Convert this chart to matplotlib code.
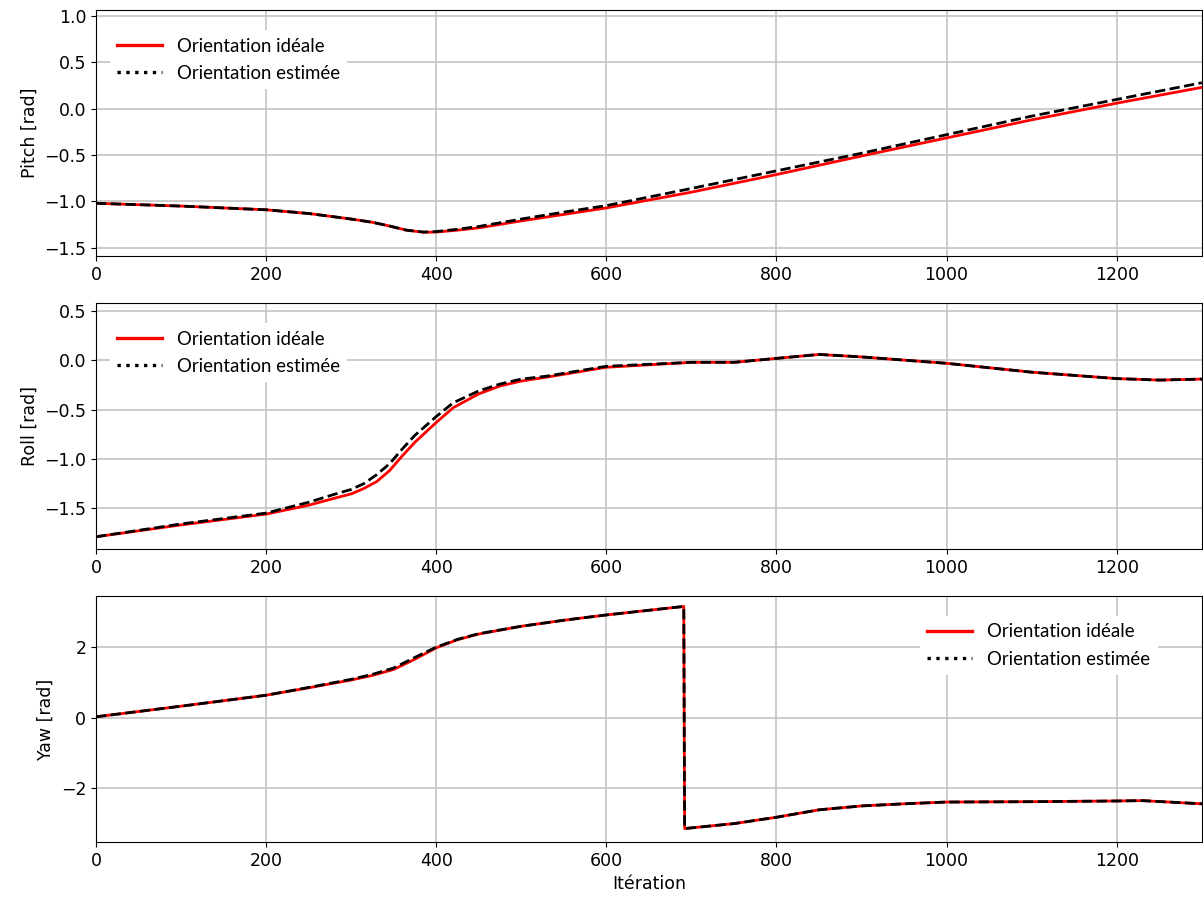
import numpy as np
import matplotlib
matplotlib.use("Agg")
import matplotlib.pyplot as plt
from matplotlib.lines import Line2D

# ---------------------------------------------------------------------------
# Data (iteration -> angle in rad)
# ---------------------------------------------------------------------------
x_pitch = [0, 100, 200, 250, 300, 325, 345, 365, 385, 400, 425, 450, 500,
           550, 600, 700, 800, 900, 1000, 1100, 1200, 1300]
pitch_ideal = [-1.02, -1.05, -1.09, -1.13, -1.19, -1.225, -1.265, -1.31, -1.333,
               -1.33, -1.31, -1.285, -1.21, -1.14, -1.07, -0.90, -0.71, -0.51,
               -0.315, -0.12, 0.06, 0.23]
pitch_est = [-1.02, -1.05, -1.09, -1.13, -1.19, -1.225, -1.265, -1.31, -1.33,
             -1.325, -1.30, -1.27, -1.19, -1.115, -1.045, -0.86, -0.67, -0.48,
             -0.28, -0.08, 0.10, 0.28]

x_roll = [0, 100, 200, 250, 280, 300, 315, 330, 345, 360, 375, 400, 420, 450,
          475, 500, 530, 600, 700, 750, 800, 850, 900, 1000, 1100, 1200, 1250, 1300]
roll_ideal = [-1.79, -1.67, -1.56, -1.47, -1.40, -1.355, -1.30, -1.23, -1.12,
              -0.97, -0.83, -0.63, -0.48, -0.34, -0.26, -0.21, -0.17, -0.07,
              -0.02, -0.02, 0.02, 0.06, 0.035, -0.03, -0.12, -0.185, -0.20, -0.19]
roll_est = [-1.79, -1.66, -1.55, -1.44, -1.36, -1.31, -1.25, -1.16, -1.05,
            -0.90, -0.76, -0.57, -0.43, -0.31, -0.24, -0.19, -0.16, -0.06,
            -0.02, -0.02, 0.02, 0.06, 0.035, -0.03, -0.12, -0.185, -0.20, -0.19]

x_yaw = [0, 100, 200, 250, 300, 325, 350, 375, 400, 425, 450, 500, 550, 600,
         691, 692, 750, 800, 850, 900, 950, 1000, 1100, 1200, 1230, 1300]
yaw_ideal = [0.02, 0.32, 0.63, 0.84, 1.06, 1.19, 1.36, 1.65, 1.97, 2.20, 2.36,
             2.58, 2.75, 2.90, 3.14, -3.14, -3.00, -2.82, -2.61, -2.50, -2.44,
             -2.39, -2.38, -2.36, -2.35, -2.44]
yaw_est = [0.02, 0.32, 0.63, 0.85, 1.08, 1.22, 1.40, 1.70, 1.99, 2.21, 2.37,
           2.58, 2.75, 2.90, 3.14, -3.14, -3.00, -2.82, -2.61, -2.50, -2.44,
           -2.39, -2.38, -2.36, -2.35, -2.44]

LABELS = ["Orientation idéale", "Orientation estimée"]
YLABELS = ["Pitch [rad]", "Roll [rad]", "Yaw [rad]"]
YLIMS = [(-1.59, 1.065), (-1.915, 0.583), (-3.52, 3.44)]

plt.rcParams["font.size"] = 12.5
plt.rcParams["font.family"] = "DejaVu Sans"

fig, axes = plt.subplots(3, 1, figsize=(12.03, 8.99), dpi=100)
fig.subplots_adjust(left=0.0798, right=0.999, top=0.9889, bottom=0.0634, hspace=0.19)

series = [(x_pitch, pitch_ideal, pitch_est),
          (x_roll, roll_ideal, roll_est),
          (x_yaw, yaw_ideal, yaw_est)]

handles = [Line2D([], [], color="red", lw=2.4, ls="-"),
           Line2D([], [], color="black", lw=2.4, ls=":")]

for i, (ax, (xs, ideal, est)) in enumerate(zip(axes, series)):
    ax.plot(xs, ideal, color="red", lw=2.0)
    ax.plot(xs, est, color="black", lw=2.0, ls="--")
    ax.set_xlim(0, 1300)
    ax.set_ylim(*YLIMS[i])
    ax.set_ylabel(YLABELS[i])
    ax.grid(True, color="#c4c4c4", lw=1.2)
    ax.set_axisbelow(True)

    if i < 2:
        loc, anchor = "upper left", (0.0125, 0.918)
    else:
        loc, anchor = "upper right", (0.96, 0.918)
    leg = ax.legend(handles, LABELS, loc=loc, bbox_to_anchor=anchor,
                    borderaxespad=0, handlelength=2.4, handletextpad=0.8,
                    labelspacing=0.55, fancybox=False, framealpha=1,
                    prop={"family": "Lato", "size": 13.4})
    leg.get_frame().set_edgecolor("none")

axes[2].set_yticks([-2, 0, 2])
axes[2].set_xlabel("Itération")

fig.savefig("out.png", dpi=100)
